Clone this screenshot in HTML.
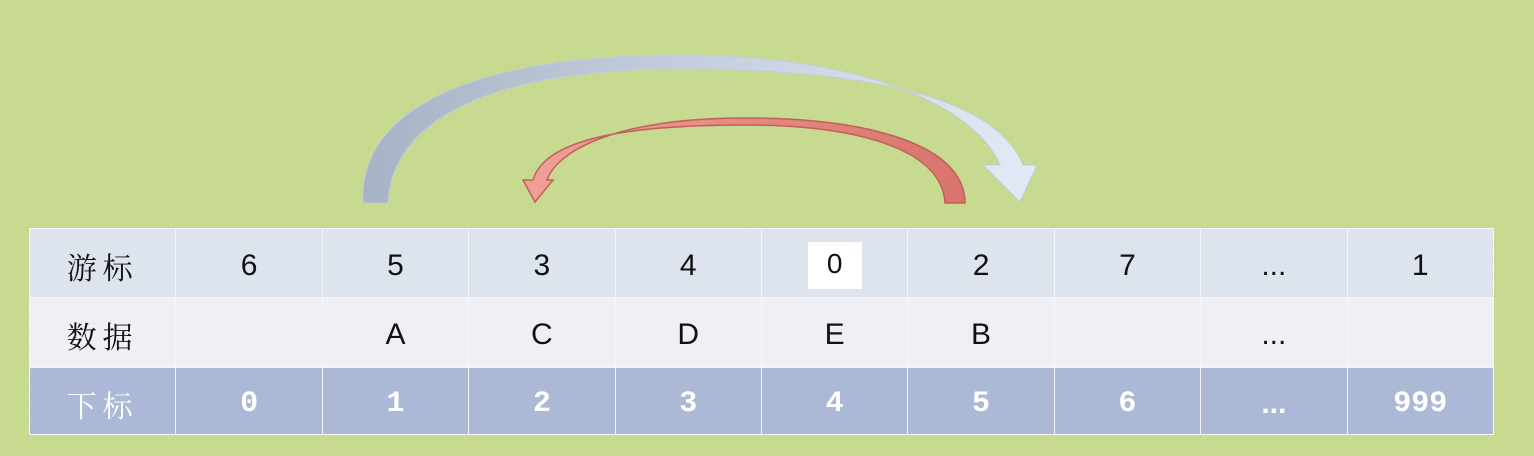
<!DOCTYPE html>
<html><head><meta charset="utf-8"><style>
body{margin:0;width:1534px;height:456px;overflow:hidden;background:#c6d98f;font-family:"Liberation Sans","Noto Sans CJK SC",sans-serif}
#bg{position:absolute;left:0;top:0;width:1534px;height:456px;background:repeating-linear-gradient(-60deg,#c6d98f 0 6px,#c9dc93 6px 8px)}
table{position:absolute;left:29px;top:228px;border-collapse:collapse;table-layout:fixed;width:1465px}
td{text-align:center;border:1.5px solid #f4f6f9;font-size:30px;color:#111;padding:0;padding-top:5px}
tr.r1 td{background:#dde4ee;height:63px}
tr.r2 td{background:#eef0f5;height:64px}
tr.r3 td{background:#abb9d6;height:61px;color:#fff;font-weight:bold;font-family:"Liberation Mono","DejaVu Sans Mono",monospace}
td.h{font-family:"Noto Serif CJK SC","Liberation Serif",serif;font-size:30px;letter-spacing:6px}
.box{display:inline-block;background:#fff;width:54px;height:47px;line-height:44px;font-size:28px}
</style></head><body>
<div id="bg"></div>
<svg width="1534" height="456" style="position:absolute;left:0;top:0">
<defs><linearGradient id="g" x1="0" x2="1"><stop offset="0" stop-color="#a7b3c5"/><stop offset="1" stop-color="#e3eaf6"/></linearGradient>
<linearGradient id="r" x1="0" x2="1"><stop offset="0" stop-color="#f0a098"/><stop offset="1" stop-color="#d9746c"/></linearGradient></defs>
<path d="M363,203 C358,110 470,55 680,55 C860,55 975,105 1000,165 L983,165 L1020,202 L1037,165 L1023,165 C995,95 860,69 680,69 C490,69 392,120 388,203 Z" fill="url(#g)" stroke="#c3ccd9" stroke-width="1"/>
<path d="M965,203 C965,145 870,118 745,118 C630,118 560,145 547,180 L553,180 L535,202 L523,180 L533,180 C545,138 630,125 745,125 C860,125 942,150 945,203 Z" fill="url(#r)" stroke="#c0605a" stroke-width="1.5"/>
</svg>
<table>
<tr class="r1"><td class="h">游标</td><td>6</td><td>5</td><td>3</td><td>4</td><td><span class="box">0</span></td><td>2</td><td>7</td><td>...</td><td>1</td></tr>
<tr class="r2"><td class="h">数据</td><td></td><td>A</td><td>C</td><td>D</td><td>E</td><td>B</td><td></td><td>...</td><td></td></tr>
<tr class="r3"><td class="h" style="font-family:'Noto Serif CJK SC',serif;font-weight:normal">下标</td><td>0</td><td>1</td><td>2</td><td>3</td><td>4</td><td>5</td><td>6</td><td style="font-family:'Liberation Sans',sans-serif">...</td><td>999</td></tr>
</table>
</body></html>
